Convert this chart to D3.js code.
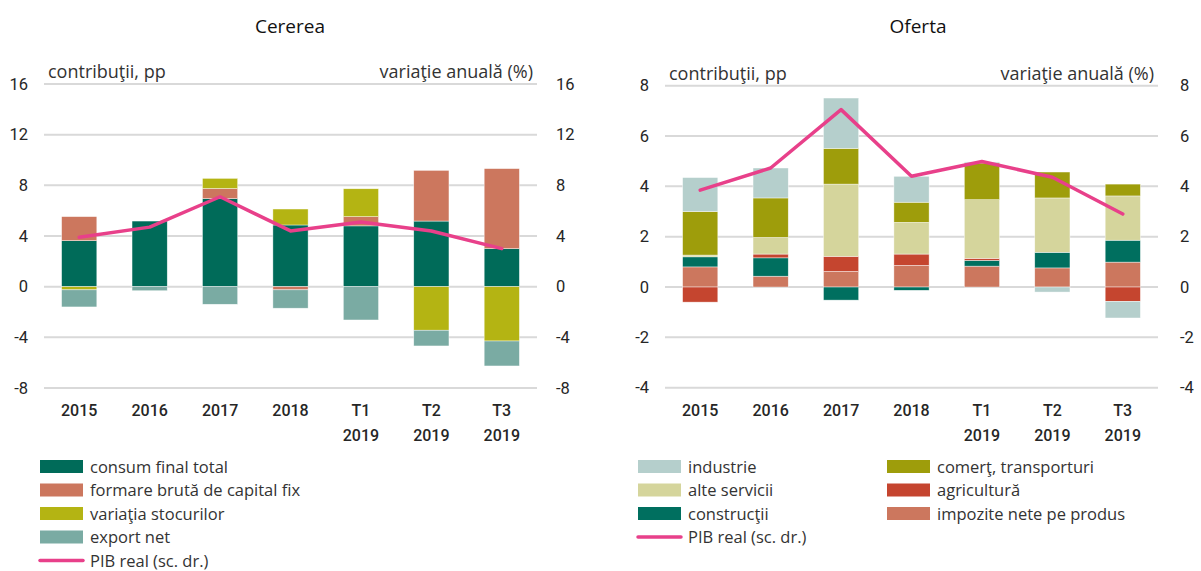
<!DOCTYPE html>
<html>
<head>
<meta charset="utf-8">
<script src="https://cdn.jsdelivr.net/npm/d3@7"></script>
<style>
  body { margin: 0; background: #fff; }
  svg text { fill: #262626; }
  .tick-lbl { font-family: Roboto, "Liberation Sans Narrow", sans-serif; font-size: 16.5px; }
  .xlbl { font-weight: 500; font-size: 16px; }
  .txt { font-family: "Open Sans", sans-serif; font-size: 16px; fill: #333; }
  .axt { font-size: 18px; }
  .title { font-family: "Open Sans", sans-serif; font-size: 19px; fill: #111; }
</style>
</head>
<body>
<svg id="chart" width="1201" height="571"></svg>
<script>
const categories = ["2015", "2016", "2017", "2018", "T1 2019", "T2 2019", "T3 2019"];

// Cererea
const consum = [3.63, 5.18, 6.95, 4.87, 4.8, 5.18, 3.0];
const formare = [1.9, 0, 0.8, -0.25, 0.73, 4.0, 6.32];
const variatia = [-0.25, 0, 0.8, 1.26, 2.2, -3.44, -4.29];
const exportNet = [-1.35, -0.32, -1.39, -1.45, -2.63, -1.24, -1.97];
const pibCerere = [3.9, 4.7, 7.1, 4.4, 5.1, 4.4, 3.0];
const ticksCerere = [-8, -4, 0, 4, 8, 12, 16];

// Oferta
const impozite = [0.8, 0.43, 0.62, 0.86, 0.83, 0.76, 0.99];
const constructii = [0.4, 0.73, -0.52, -0.13, 0.23, 0.62, 0.87];
const agricultura = [-0.6, 0.15, 0.6, 0.45, 0.08, 0, -0.57];
const alteServicii = [0.07, 0.66, 2.87, 1.26, 2.33, 2.16, 1.76];
const comert = [1.73, 1.57, 1.42, 0.8, 1.46, 1.03, 0.47];
const industrie = [1.35, 1.19, 2.0, 1.03, 0.04, -0.2, -0.66];
const pibOferta = [3.85, 4.73, 7.05, 4.4, 4.99, 4.36, 2.9];
const ticksOferta = [-4, -2, 0, 2, 4, 6, 8];

const svg = d3.select("#chart");

function drawPanel({title, cx, x0, x1, yDom, yTop, yBot, ticks, series, line, lineColor, leftLblX, rightLblX}) {
  const g = svg.append("g");
  const x = d3.scaleBand().domain(categories).range([x0, x1]).paddingInner(0.5).paddingOuter(0.25);
  const y = d3.scaleLinear().domain(yDom).range([yBot, yTop]);

  g.append("text").attr("class", "title").attr("x", cx).attr("y", 33).attr("text-anchor", "middle").text(title);

  // grid
  g.selectAll("line.grid").data(ticks).join("line").attr("class", "grid")
    .attr("x1", x0).attr("x2", x1).attr("y1", d => y(d)).attr("y2", d => y(d))
    .attr("stroke", "#d9d9d9").attr("stroke-width", 2);

  // tick labels, both sides
  g.selectAll("text.tl").data(ticks).join("text").attr("class", "tick-lbl tl")
    .attr("x", leftLblX).attr("y", d => y(d)).attr("dy", "0.35em").attr("text-anchor", "end").text(d => d);
  g.selectAll("text.tr").data(ticks).join("text").attr("class", "tick-lbl tr")
    .attr("x", rightLblX).attr("y", d => y(d)).attr("dy", "0.35em").attr("text-anchor", "start").text(d => d);

  g.append("text").attr("class", "txt axt").attr("x", x0 + 4).attr("y", y(ticks.at(-1)) - 6).text("contribuţii, pp");
  g.append("text").attr("class", "txt axt").attr("x", x1 - 4).attr("y", y(ticks.at(-1)) - 6).attr("text-anchor", "end").text("variaţie anuală (%)");

  // stacked bars
  const rows = categories.map((c, i) => {
    const r = {cat: c};
    series.forEach(s => r[s.key] = s.values[i]);
    return r;
  });
  const stack = d3.stack().keys(series.map(s => s.key)).offset(d3.stackOffsetDiverging)(rows);
  g.selectAll("g.layer").data(stack).join("g").attr("class", "layer")
    .attr("fill", (d, i) => series[i].color)
    .selectAll("rect").data(d => d).join("rect")
    .attr("x", d => x(d.data.cat)).attr("width", x.bandwidth())
    .attr("y", d => y(Math.max(d[0], d[1]))).attr("height", d => Math.abs(y(d[0]) - y(d[1])))
    .attr("stroke", "#fff").attr("stroke-width", 0.6).attr("stroke-opacity", 0.7);

  // line
  const ln = d3.line().x((d, i) => x(categories[i]) + x.bandwidth() / 2).y(d => y(d));
  g.append("path").attr("d", ln(line)).attr("fill", "none").attr("stroke", lineColor)
    .attr("stroke-width", 3.5).attr("stroke-linejoin", "round").attr("stroke-linecap", "round");

  // x labels
  const xl = g.selectAll("text.xl").data(categories).join("text").attr("class", "tick-lbl xlbl xl")
    .attr("x", d => x(d) + x.bandwidth() / 2).attr("y", 416).attr("text-anchor", "middle");
  xl.selectAll("tspan").data(d => d.split(" ")).join("tspan")
    .attr("x", function() { return this.parentNode.getAttribute("x"); })
    .attr("dy", (d, i) => i ? 25 : 0).text(d => d);
  return g;
}

const PINK = "#e8408a";
const cerereSeries = [
  {key: "consum final total", values: consum, color: "#006b59"},
  {key: "formare brută de capital fix", values: formare, color: "#cc775e"},
  {key: "variaţia stocurilor", values: variatia, color: "#b4b413"},
  {key: "export net", values: exportNet, color: "#7aaba3"}
];
const ofertaSeries = [
  {key: "impozite nete pe produs", values: impozite, color: "#cc775e"},
  {key: "construcţii", values: constructii, color: "#006f5f"},
  {key: "agricultură", values: agricultura, color: "#c5452f"},
  {key: "alte servicii", values: alteServicii, color: "#d5d59c"},
  {key: "comerţ, transporturi", values: comert, color: "#9e9d0b"},
  {key: "industrie", values: industrie, color: "#b5cfcc"}
];

drawPanel({title: "Cererea", cx: 290, x0: 44, x1: 537, yDom: [-8, 16], yTop: 84, yBot: 388,
  ticks: ticksCerere, series: cerereSeries, line: pibCerere, lineColor: PINK, leftLblX: 28, rightLblX: 556});
drawPanel({title: "Oferta", cx: 918, x0: 665, x1: 1158, yDom: [-4, 8], yTop: 85.7, yBot: 387.7,
  ticks: ticksOferta, series: ofertaSeries, line: pibOferta, lineColor: PINK, leftLblX: 649, rightLblX: 1180});

// legends
function legend(items, lx, ly) {
  const g = svg.append("g").attr("transform", `translate(${lx},${ly})`);
  const it = g.selectAll("g").data(items).join("g").attr("transform", (d, i) => `translate(0,${i * 23.5})`);
  it.filter(d => !d.line).append("rect").attr("width", 43).attr("height", 13).attr("fill", d => d.color);
  it.filter(d => d.line).append("line").attr("x1", 0).attr("x2", 43).attr("y1", 6.5).attr("y2", 6.5)
    .attr("stroke", d => d.color).attr("stroke-width", 3.5).attr("stroke-linecap", "round");
  it.append("text").attr("class", "txt").attr("x", 50).attr("y", 6.5).attr("dy", "0.38em").style("font-size", "16.5px").text(d => d.key);
}
const pibItem = {key: "PIB real (sc. dr.)", color: PINK, line: true};
legend([...cerereSeries, pibItem], 40, 460);
legend([ofertaSeries[5], ofertaSeries[3], ofertaSeries[1], pibItem], 638, 460);
legend([ofertaSeries[4], ofertaSeries[2], ofertaSeries[0]], 887, 460);
</script>
</body>
</html>
